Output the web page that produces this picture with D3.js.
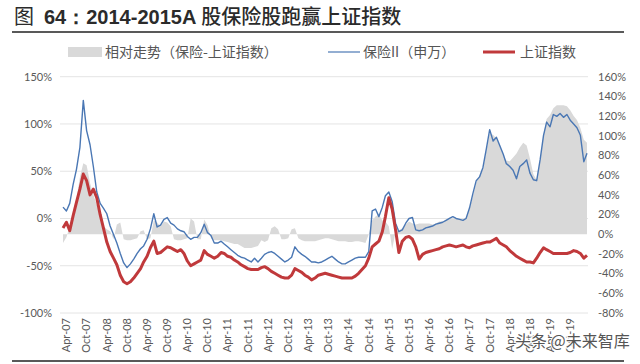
<!DOCTYPE html>
<html>
<head>
<meta charset="utf-8">
<script src="https://cdn.jsdelivr.net/npm/d3@7"></script>
<style>
  body { margin: 0; background: #fff; }
  svg { display: block; }
</style>
</head>
<body>
<script>
// monthly points, Mar-2007 .. Mar-2020
var startMonth = new Date(2007, 2, 1);
var monthCount = 157;

// 保险II（申万）, left axis (%)
var insurance = [
  12, 8, 16, 36, 52, 75, 125, 93, 78, 55,
  28, 16, 11, 5, -8, -17, -26, -37, -47, -52,
  -48, -43, -37, -32, -29, -22, -11, 5, -9, -7,
  -1, 1, -5, -7, -11, -13, -14, -19, -22, -20,
  -20, -15, -6, -15, -18, -26, -26, -24, -27, -30,
  -33, -36, -39, -41, -42, -44, -46, -42, -46, -42,
  -38, -36, -35, -37, -40, -43, -46, -44, -41, -30,
  -35, -38, -40, -43, -46, -46, -47, -46, -44, -42,
  -40, -43, -46, -48, -48, -46, -44, -42, -41, -41,
  -41, -35, 8, 10, 2, 12, 24, 28, 18, -5,
  -14, -12, -5, 0, 1, -12, -13, -12, -10, -9,
  -8, -6, -5, -4, -2, 0, 2, 0, -1, -2,
  0, 11, 26, 40, 44, 54, 74, 94, 82, 86,
  77, 68, 58, 55, 51, 42, 55, 58, 62, 48,
  41, 40, 62, 88, 102, 97, 110, 108, 111, 107,
  110, 104, 100, 96, 88, 60, 69
];

// 上证指数, left axis (%)
var shIndex = [
  -10, -4, -13, 3, 17, 31, 47, 40, 25, 31,
  22, 4, -10, -25, -35, -42, -49, -60, -67, -69,
  -67, -63, -58, -53, -46, -40, -31, -24, -37, -36,
  -33, -30, -31, -33, -35, -33, -37, -45, -50, -48,
  -46, -44, -34, -38, -40, -42, -40, -36, -37, -40,
  -41, -44, -46, -49, -51, -53, -54, -54, -54, -52,
  -51, -53, -56, -58, -60, -62, -63, -63, -60, -53,
  -55, -57, -60, -62, -65, -63, -60, -59, -58, -59,
  -60, -61, -62, -63, -63, -63, -63, -61, -58, -54,
  -50, -42, -30, -27, -24, -14, 2, 22, 10, -12,
  -36, -24, -20, -19, -22, -30, -43, -38, -36, -35,
  -34, -33, -32, -30, -29, -28, -29, -30, -29, -28,
  -30, -31, -29, -28, -27, -26, -25, -25, -23, -21,
  -26, -28, -30, -34, -37, -40, -42, -44, -46, -46,
  -47, -42, -36, -31, -33, -35, -37, -37, -37, -37,
  -37, -36, -34, -35, -37, -42, -39
];

// 相对走势（保险-上证指数）, right axis (%)
var relative = [
  -9, -3, 8, 20, 35, 58, 72, 70, 52, 40,
  30, 20, 8, 5, 3, -5, 10, 12, -5, -6,
  -6, -5, -4, 3, 4, -5, -4, 14, 12, 8,
  13, 12, 8, -5, -6, -6, -5, -4, 16, 13,
  -5, -5, 15, 9, -4, -6, -6, -6, -7, -8,
  -9, -10, -10, -12, -14, -14, -14, -13, -12, -6,
  -8, -6, 6, 8, 5, -5, -5, -4, 5, 6,
  -4, -6, -7, -7, -7, -7, -6, -5, -4, -4,
  -5, -6, -7, -7, -7, -8, -8, -7, -7, -8,
  -9, 0, 14, 18, 20, 14, 13, 8, -15, 2,
  4, 6, 10, 13, 11, 10, 11, 11, 11, 11,
  10, 11, 13, 13, 15, 16, 16, 16, 16, 15,
  17, 26, 38, 52, 60, 66, 85, 102, 101, 97,
  91, 80, 75, 74, 78, 82, 88, 93, 90, 77,
  61, 55, 75, 101, 117, 121, 128, 131, 131, 131,
  130, 126, 120, 116, 108, 96, 93
];

var leftTicks = [150, 100, 50, 0, -50, -100];
var rightTicks = [160, 140, 120, 100, 80, 60, 40, 20, 0, -20, -40, -60, -80];

var legendLabels = ['相对走势（保险-上证指数）', '保险II（申万）', '上证指数'];

var width = 640,
    height = 364;

var svg = d3.select('body')
  .append('svg')
  .attr('width', width)
  .attr('height', height);

var dates = d3.range(monthCount).map(function(i) {
  return d3.timeMonth.offset(startMonth, i);
});

var x = d3.scaleTime()
  .domain([dates[0], dates[dates.length - 1]])
  .range([63, 587]);

var yLeft = d3.scaleLinear().domain([-100, 150]).range([313, 76.7]);
var yRight = d3.scaleLinear().domain([-80, 160]).range([313, 76.7]);

var labelFont = 'Lato, "Open Sans", sans-serif';
var cjkFont = '"Noto Sans CJK SC", sans-serif';

// title
var title = svg.append('text')
  .attr('x', 14)
  .attr('y', 24)
  .attr('fill', '#2b2b2b')
  .style('font-size', '20px');
title.append('tspan').style('font-family', cjkFont).text('图');
title.append('tspan').attr('dx', 10).style('font-family', '"Liberation Sans", Arial, sans-serif').style('font-weight', 'bold').text('64：2014-2015A ');
title.append('tspan').style('font-family', cjkFont).style('font-weight', 500).text('股保险股跑赢上证指数');

svg.append('line')
  .attr('x1', 12).attr('x2', 624)
  .attr('y1', 32).attr('y2', 32)
  .attr('stroke', '#222')
  .attr('stroke-width', 1.5);

svg.append('line')
  .attr('x1', 12).attr('x2', 624)
  .attr('y1', 361).attr('y2', 361)
  .attr('stroke', '#222')
  .attr('stroke-width', 1.5);

// legend
var legend = svg.append('g').attr('class', 'legend');
legend.append('rect')
  .attr('x', 68).attr('y', 47).attr('width', 34).attr('height', 10)
  .attr('fill', '#d9d9d9');
legend.append('text')
  .attr('x', 105).attr('y', 57)
  .text(legendLabels[0]);
legend.append('line')
  .attr('x1', 328).attr('x2', 360).attr('y1', 52).attr('y2', 52)
  .attr('stroke', '#4a77b4').attr('stroke-width', 1.2);
legend.append('text')
  .attr('x', 363).attr('y', 57)
  .text(legendLabels[1]);
legend.append('line')
  .attr('x1', 483).attr('x2', 515).attr('y1', 52).attr('y2', 52)
  .attr('stroke', '#c0393b').attr('stroke-width', 3);
legend.append('text')
  .attr('x', 520).attr('y', 57)
  .text(legendLabels[2]);
legend.selectAll('text')
  .attr('fill', '#555')
  .style('font-family', cjkFont)
  .style('font-size', '14px');

// grid
svg.append('g')
  .selectAll('line')
  .data(leftTicks)
  .enter()
  .append('line')
  .attr('x1', 60).attr('x2', 588)
  .attr('y1', function(d) { return yLeft(d); })
  .attr('y2', function(d) { return yLeft(d); })
  .attr('stroke', '#e4e4e4')
  .attr('stroke-width', 1);

// relative area
var area = d3.area()
  .x(function(d, i) { return x(dates[i]); })
  .y0(yRight(0))
  .y1(function(d) { return yRight(d); });

svg.append('path')
  .datum(relative)
  .attr('d', area)
  .attr('fill', '#d9d9d9');

var lineLeft = d3.line()
  .x(function(d, i) { return x(dates[i]); })
  .y(function(d) { return yLeft(d); });

svg.append('path')
  .datum(insurance)
  .attr('d', lineLeft)
  .attr('fill', 'none')
  .attr('stroke', '#4a77b4')
  .attr('stroke-width', 1.4)
  .attr('stroke-linejoin', 'round');

svg.append('path')
  .datum(shIndex)
  .attr('d', lineLeft)
  .attr('fill', 'none')
  .attr('stroke', '#c0393b')
  .attr('stroke-width', 3)
  .attr('stroke-linejoin', 'round');

// left axis labels
svg.append('g')
  .selectAll('text')
  .data(leftTicks)
  .enter()
  .append('text')
  .attr('x', 52)
  .attr('y', function(d) { return yLeft(d); })
  .attr('dy', '0.35em')
  .attr('text-anchor', 'end')
  .attr('fill', '#595959')
  .style('font-family', labelFont)
  .style('font-size', '11px')
  .text(function(d) { return d + '%'; });

// right axis labels
svg.append('g')
  .selectAll('text')
  .data(rightTicks)
  .enter()
  .append('text')
  .attr('x', 598)
  .attr('y', function(d) { return yRight(d); })
  .attr('dy', '0.35em')
  .attr('fill', '#595959')
  .style('font-family', labelFont)
  .style('font-size', '11px')
  .text(function(d) { return d + '%'; });

// x axis labels, Apr / Oct of each year
var xTicks = d3.timeMonth.range(new Date(2007, 3, 1), new Date(2019, 10, 1), 6);
var fmt = d3.timeFormat('%b-%y');

svg.append('g')
  .selectAll('text')
  .data(xTicks)
  .enter()
  .append('text')
  .attr('transform', function(d) { return 'translate(' + x(d) + ',318) rotate(-90)'; })
  .attr('dy', '0.35em')
  .attr('text-anchor', 'end')
  .attr('fill', '#595959')
  .style('font-family', labelFont)
  .style('font-size', '11px')
  .text(function(d) { return fmt(d); });

// watermark
svg.append('text')
  .attr('x', 515)
  .attr('y', 347)
  .attr('fill', '#555')
  .attr('stroke', '#fff')
  .attr('stroke-width', 2)
  .attr('paint-order', 'stroke')
  .style('font-family', cjkFont)
  .style('font-size', '16px')
  .text('头条 @未来智库');
</script>
</body>
</html>
